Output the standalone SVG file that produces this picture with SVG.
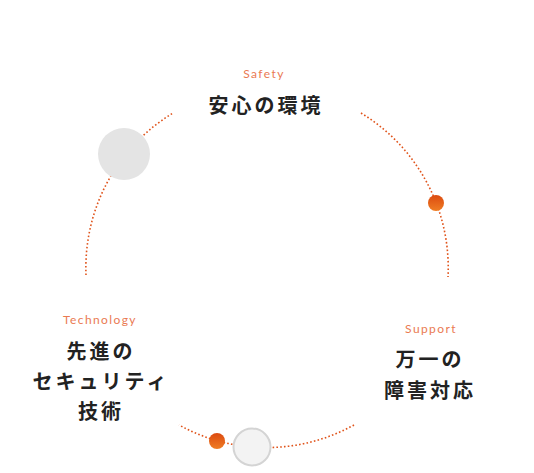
<svg xmlns="http://www.w3.org/2000/svg" width="534" height="473" viewBox="0 0 534 473">
<style>
.arc{fill:none;stroke:#e0531a;stroke-width:1.6;stroke-dasharray:1.6 2.2}
.en{font-family:Lato,"Open Sans",sans-serif;font-size:12px;font-weight:400;fill:#ea7a52;letter-spacing:1.4px;text-anchor:middle}
.jp{font-family:"Noto Sans CJK JP","Noto Sans",sans-serif;font-size:20px;font-weight:700;fill:#222;letter-spacing:3px;text-anchor:middle}
</style>
<defs>
<linearGradient id="og" x1="0" y1="0" x2="0" y2="1">
<stop offset="0" stop-color="#dc4a10"/>
<stop offset="1" stop-color="#ef7d24"/>
</linearGradient>
</defs>
<g id="connectors">
<path class="arc" d="M361,113 A181,181 0 0 1 448,277"/>
<path class="arc" d="M354,425 A181,181 0 0 1 179,425"/>
<path class="arc" d="M86,275 A181,181 0 0 1 173,113"/>
</g>
<g id="node-safety">
<text class="en" x="264" y="78">Safety</text>
<text class="jp" x="266" y="113">安心の環境</text>
</g>
<g id="node-support">
<text class="en" x="431" y="333">Support</text>
<text class="jp" x="430" y="367">万一の</text>
<text class="jp" x="430" y="398">障害対応</text>
</g>
<g id="node-technology">
<text class="en" x="100" y="324">Technology</text>
<text class="jp" x="101" y="359">先進の</text>
<text class="jp" x="101" y="389">セキュリティ</text>
<text class="jp" x="101" y="419">技術</text>
</g>
<g id="markers">
<circle cx="124" cy="154" r="26" fill="#e4e4e4"/>
<circle cx="436" cy="203" r="8" fill="url(#og)"/>
<circle cx="217" cy="441" r="8" fill="url(#og)"/>
<circle cx="252" cy="447" r="18.5" fill="#f3f3f3" stroke="#d4d4d4" stroke-width="2"/>
</g>
</svg>
